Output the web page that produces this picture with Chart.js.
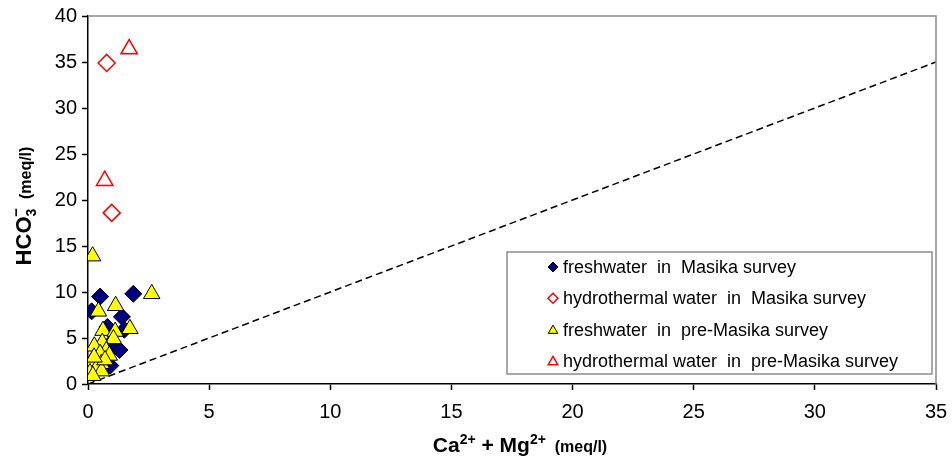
<!DOCTYPE html>
<html>
<head>
<meta charset="utf-8">
<title>HCO3 vs Ca + Mg</title>
<script src="https://cdn.jsdelivr.net/npm/chart.js@4.4.1/dist/chart.umd.min.js"></script>
<style>
  html, body { margin: 0; padding: 0; background: #fff; }
  canvas { display: block; }
</style>
</head>
<body>
<canvas id="hco3Chart" width="952" height="465"></canvas>
<script>
    // Ca2+ + Mg2+ (meq/l) on x, HCO3- (meq/l) on y
    const freshMasikaX = [0.5, 1.87, 0.15, 1.4, 0.8, 1.5, 1.3, 0.92, 1.0];
    const freshMasikaY = [9.5, 9.8, 7.9, 7.3, 6.2, 5.9, 3.7, 2.0, 4.6];

    const hydroMasikaX = [0.77, 0.98];
    const hydroMasikaY = [34.9, 18.6];

    const freshPreX = [0.19, 2.63, 1.14, 0.43, 1.73, 0.62, 1.12, 1.05, 0.59, 0.26, 0.75, 0.88, 0.5, 0.14, 0.55, 0.35, 0.08, 0.56, 0.2, 0.7, 0.25];
    const freshPreY = [13.9, 9.8, 8.5, 7.9, 6.0, 5.8, 5.7, 4.9, 4.5, 4.1, 3.6, 3.1, 3.3, 2.4, 2.2, 1.7, 1.2, 1.4, 0.9, 2.6, 2.9];

    const hydroPreX = [1.7, 0.69];
    const hydroPreY = [36.4, 22.1];

    // 1:1 reference line
    const lineX = [0, 35];
    const lineY = [0, 35];

    const seriesNames = [
      "freshwater  in  Masika survey",
      "hydrothermal water  in  Masika survey",
      "freshwater  in  pre-Masika survey",
      "hydrothermal water  in  pre-Masika survey"
    ];

    const xTicks = [0, 5, 10, 15, 20, 25, 30, 35];
    const yTicks = [0, 5, 10, 15, 20, 25, 30, 35, 40];

    const toPoints = (xs, ys) => xs.map((x, i) => ({ x: x, y: ys[i] }));

    const seriesStyles = [
      { pointStyle: "rectRot", pointRadius: 8.5, backgroundColor: "#000080", borderColor: "#000000", borderWidth: 1 },
      { pointStyle: "rectRot", pointRadius: 8.5, backgroundColor: "#ffffff", borderColor: "#ff0000", borderWidth: 1.5 },
      { pointStyle: "triangle", pointRadius: 9.5, backgroundColor: "#ffff00", borderColor: "#000000", borderWidth: 1 },
      { pointStyle: "triangle", pointRadius: 9.5, backgroundColor: "#ffffff", borderColor: "#ff0000", borderWidth: 1.5 }
    ];

    const seriesData = [
      toPoints(freshMasikaX, freshMasikaY),
      toPoints(hydroMasikaX, hydroMasikaY),
      toPoints(freshPreX, freshPreY),
      toPoints(hydroPreX, hydroPreY)
    ];

    const FONT = "'Liberation Sans', Arial, sans-serif";

    const datasets = seriesData.map((pts, i) => ({
      type: "scatter",
      label: seriesNames[i],
      data: pts,
      pointStyle: seriesStyles[i].pointStyle,
      pointRadius: seriesStyles[i].pointRadius,
      pointHoverRadius: seriesStyles[i].pointRadius,
      backgroundColor: seriesStyles[i].backgroundColor,
      borderColor: seriesStyles[i].borderColor,
      borderWidth: seriesStyles[i].borderWidth,
      order: 4 - i
    }));

    datasets.push({
      type: "line",
      label: "1:1",
      data: toPoints(lineX, lineY),
      borderColor: "#000000",
      borderWidth: 1.5,
      borderDash: [7, 4],
      pointRadius: 0,
      fill: false,
      order: 10
    });

    function drawMarkerPath(ctx, style, x, y, r) {
      if (style === "triangle") {
        for (let k = 0; k < 3; k++) {
          const a = k * 2 * Math.PI / 3;
          const px = x + Math.sin(a) * r;
          const py = y - Math.cos(a) * r;
          if (k === 0) ctx.moveTo(px, py); else ctx.lineTo(px, py);
        }
      } else {
        ctx.moveTo(x, y - r);
        ctx.lineTo(x + r, y);
        ctx.lineTo(x, y + r);
        ctx.lineTo(x - r, y);
      }
      ctx.closePath();
    }

    // bold text runs with super/subscripts, centred on (cx, baseline)
    function drawRich(ctx, parts, cx, by, rot) {
      let total = 0;
      parts.forEach(p => {
        ctx.font = "bold " + p.size + "px " + FONT;
        p.w = ctx.measureText(p.t).width;
        total += p.w - (p.back || 0);
      });
      ctx.save();
      ctx.translate(cx, by);
      ctx.rotate(rot);
      ctx.fillStyle = "#000000";
      ctx.textAlign = "left";
      ctx.textBaseline = "alphabetic";
      let x = -total / 2;
      parts.forEach(p => {
        ctx.font = "bold " + p.size + "px " + FONT;
        x -= (p.back || 0);
        ctx.fillText(p.t, x, p.dy);
        x += p.w;
      });
      ctx.restore();
    }

    // legend box, frame and axis titles drawn straight onto the canvas
    const decorations = {
      id: "decorations",
      afterDatasetsDraw(chart) {
        const ctx = chart.ctx;
        const area = chart.chartArea;
        ctx.save();

        // grey frame on top and right
        ctx.strokeStyle = "#8c8c8c";
        ctx.lineWidth = 1.5;
        ctx.beginPath();
        ctx.moveTo(area.left, area.top);
        ctx.lineTo(area.right, area.top);
        ctx.lineTo(area.right, area.bottom);
        ctx.stroke();

        // legend
        const box = { x: 507, y: 252, w: 425, h: 122 };
        ctx.fillStyle = "#ffffff";
        ctx.fillRect(box.x, box.y, box.w, box.h);
        ctx.strokeStyle = "#8c8c8c";
        ctx.lineWidth = 1.5;
        ctx.strokeRect(box.x, box.y, box.w, box.h);

        ctx.font = "18px " + FONT;
        ctx.textBaseline = "middle";
        ctx.textAlign = "left";
        seriesNames.forEach((name, i) => {
          const cy = box.y + 15 + i * 31.3;
          const s = seriesStyles[i];
          const tri = s.pointStyle === "triangle";
          ctx.fillStyle = s.backgroundColor;
          ctx.strokeStyle = s.borderColor;
          ctx.lineWidth = s.borderWidth;
          ctx.beginPath();
          drawMarkerPath(ctx, s.pointStyle, 553, tri ? cy + 1 : cy, tri ? 5.5 : 5);
          ctx.fill();
          ctx.stroke();
          ctx.fillStyle = "#000000";
          ctx.fillText(name, 563, cy + 1);
        });

        // x axis title: Ca2+ + Mg2+ (meq/l)
        drawRich(ctx, [
          { t: "Ca", size: 21, dy: 0 },
          { t: "2+", size: 14, dy: -8 },
          { t: " + Mg", size: 21, dy: 0 },
          { t: "2+", size: 14, dy: -8 },
          { t: "  (meq/l)", size: 16, dy: 0 }
        ], (area.left + area.right) / 2 + 8, 452, 0);

        // y axis title: HCO3- (meq/l)
        drawRich(ctx, [
          { t: "HCO", size: 22, dy: 0 },
          { t: "3", size: 14, dy: 5 },
          { t: "\u2212", size: 15, dy: -10, back: 8 },
          { t: "  (meq/l)", size: 16, dy: 0 }
        ], 31, (area.top + area.bottom) / 2 + 6, -Math.PI / 2);

        ctx.restore();
      }
    };

    const ctx = document.getElementById("hco3Chart").getContext("2d");
    const chart = new Chart(ctx, {
      data: { datasets: datasets },
      options: {
        responsive: false,
        animation: false,
        layout: { padding: { top: 16, right: 16, left: 0, bottom: 0 } },
        plugins: {
          legend: { display: false },
          tooltip: { enabled: false }
        },
        scales: {
          x: {
            type: "linear",
            min: xTicks[0],
            max: xTicks[xTicks.length - 1],
            afterBuildTicks: s => { s.ticks = xTicks.map(v => ({ value: v })); },
            afterFit: s => { s.height = 81; s.paddingLeft = 0; s.paddingRight = 0; },
            grid: { drawOnChartArea: false, tickLength: 6, color: "#000000", tickWidth: 1.5 },
            border: { color: "#000000", width: 1.5 },
            ticks: { color: "#000000", font: { family: FONT, size: 20 }, padding: 10, maxRotation: 0 }
          },
          y: {
            type: "linear",
            min: yTicks[0],
            max: yTicks[yTicks.length - 1],
            afterBuildTicks: s => { s.ticks = yTicks.map(v => ({ value: v })); },
            afterFit: s => { s.width = 88; s.paddingTop = 0; s.paddingBottom = 0; },
            grid: { drawOnChartArea: false, tickLength: 6, color: "#000000", tickWidth: 1.5 },
            border: { color: "#000000", width: 1.5 },
            ticks: { color: "#000000", font: { family: FONT, size: 20 }, padding: 5 }
          }
        }
      },
      plugins: [decorations]
    });
</script>
</body>
</html>
